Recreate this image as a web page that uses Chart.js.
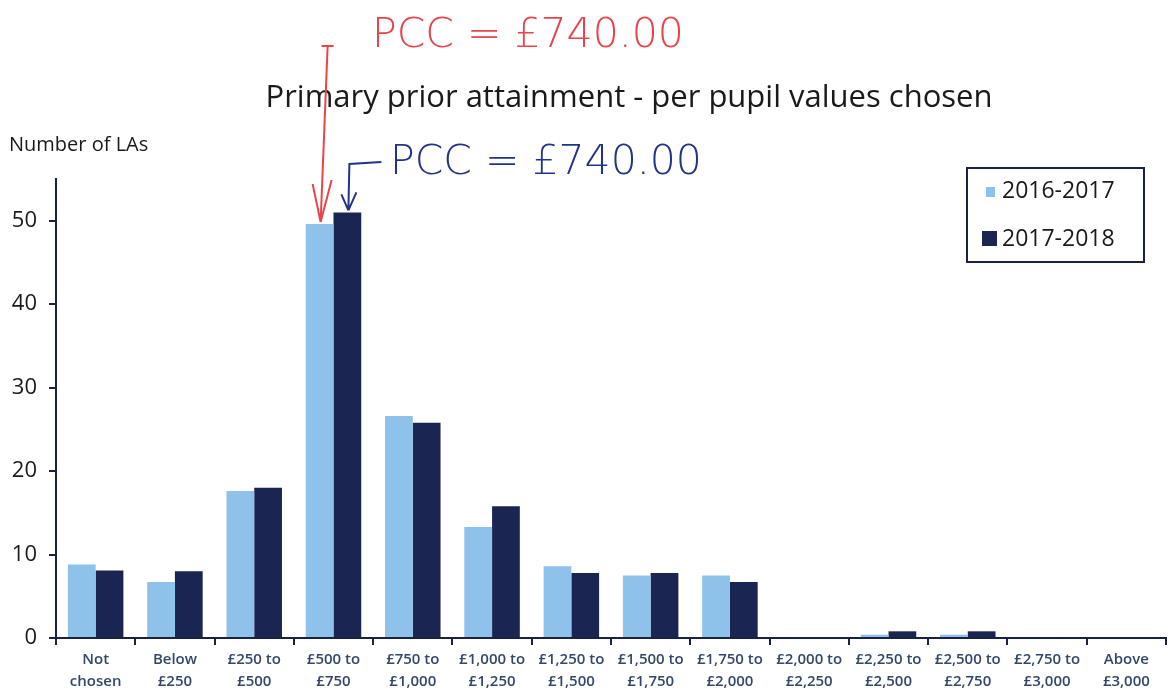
<!DOCTYPE html>
<html>
<head>
<meta charset="utf-8">
<script src="https://cdn.jsdelivr.net/npm/chart.js@4"></script>
<style>
html,body{margin:0;padding:0;background:#fff;}
#wrap{position:relative;width:1168px;height:696px;}
</style>
</head>
<body>
<div id="wrap"><canvas id="c" width="1168" height="696"></canvas></div>
<script>
const categories = [
  ["Not","chosen"],["Below","£250"],["£250 to","£500"],["£500 to","£750"],
  ["£750 to","£1,000"],["£1,000 to","£1,250"],["£1,250 to","£1,500"],["£1,500 to","£1,750"],
  ["£1,750 to","£2,000"],["£2,000 to","£2,250"],["£2,250 to","£2,500"],["£2,500 to","£2,750"],
  ["£2,750 to","£3,000"],["Above","£3,000"]
];
const seriesNames = ["2016-2017","2017-2018"];
const values2016 = [8.8, 6.7, 17.6, 49.6, 26.6, 13.3, 8.6, 7.5, 7.5, 0, 0.4, 0.4, 0, 0];
const values2017 = [8.1, 8.0, 18.0, 51.0, 25.8, 15.8, 7.8, 7.8, 6.7, 0, 0.8, 0.8, 0, 0];
const yTicks = [0, 10, 20, 30, 40, 50];
const yMax = 55;
const titleText = "Primary prior attainment - per pupil values chosen";
const yAxisTitle = "Number of LAs";
const noteRed = "PCC = £740.00";
const noteBlue = "PCC = £740.00";
const noteCategory = 3;

const colors = ["#8ec2ea", "#1b2552"];
const axisColor = "#1a2244";

const overlay = {
  id: "overlay",
  afterDraw(chart) {
    const ctx = chart.ctx;
    ctx.save();
    // title
    ctx.fillStyle = "#1a1a1a";
    ctx.font = "31px 'Open Sans', sans-serif";
    ctx.textAlign = "center";
    ctx.textBaseline = "middle";
    ctx.fillText(titleText, 629, 98);
    // y axis title
    ctx.font = "20px 'Open Sans', sans-serif";
    ctx.textAlign = "left";
    ctx.fillText(yAxisTitle, 9, 145);

    // legend
    const lx = 967, ly = 168, lw = 177, lh = 94;
    ctx.strokeStyle = axisColor;
    ctx.lineWidth = 2;
    ctx.strokeRect(lx, ly, lw, lh);
    ctx.font = "23px 'Open Sans', sans-serif";
    ctx.textBaseline = "middle";
    ctx.fillStyle = colors[0];
    ctx.fillRect(lx + 19, ly + 19, 9, 10);
    ctx.fillStyle = colors[1];
    ctx.fillRect(lx + 15, ly + 63, 15, 15);
    ctx.fillStyle = "#1a1a1a";
    ctx.fillText(seriesNames[0], lx + 35, ly + 23);
    ctx.fillText(seriesNames[1], lx + 35, ly + 71);

    // handwritten notes
    const m0 = chart.getDatasetMeta(0).data[noteCategory];
    const m1 = chart.getDatasetMeta(1).data[noteCategory];
    // red
    const rx = m0.x + 8;
    ctx.strokeStyle = "#e8444a";
    ctx.fillStyle = "#e8444a";
    ctx.lineWidth = 2;
    ctx.beginPath();
    ctx.moveTo(rx - 6, 46); ctx.lineTo(rx + 6, 46);
    ctx.moveTo(rx, 46); ctx.lineTo(rx - 7, m0.y - 2);
    ctx.moveTo(rx - 7, m0.y - 2); ctx.lineTo(rx - 15, m0.y - 40);
    ctx.moveTo(rx - 7, m0.y - 2); ctx.lineTo(rx + 4, m0.y - 44);
    ctx.stroke();
    ctx.font = "300 41px 'DejaVu Sans', sans-serif";
    ctx.textAlign = "left";
    ctx.fillText(noteRed, 372, 36);
    // blue
    const bx = m1.x + 2;
    ctx.strokeStyle = "#22348a";
    ctx.fillStyle = "#22348a";
    ctx.beginPath();
    ctx.moveTo(bx + 32, 162); ctx.lineTo(bx, 164);
    ctx.lineTo(bx - 1, m1.y - 2);
    ctx.moveTo(bx - 1, m1.y - 2); ctx.lineTo(bx - 8, m1.y - 18);
    ctx.moveTo(bx - 1, m1.y - 2); ctx.lineTo(bx + 7, m1.y - 20);
    ctx.stroke();
    ctx.fillText(noteBlue, 390, 163);
    ctx.restore();
  }
};

new Chart(document.getElementById("c"), {
  type: "bar",
  data: {
    labels: categories,
    datasets: [
      { label: seriesNames[0], data: values2016, backgroundColor: colors[0], categoryPercentage: 0.7, barPercentage: 1.0 },
      { label: seriesNames[1], data: values2017, backgroundColor: colors[1], categoryPercentage: 0.7, barPercentage: 1.0 }
    ]
  },
  options: {
    responsive: false,
    animation: false,
    devicePixelRatio: 1,
    layout: { padding: { top: 179, right: 2, left: 0, bottom: 0 } },
    plugins: { legend: { display: false }, title: { display: false }, tooltip: { enabled: false } },
    scales: {
      x: {
        afterFit(s) { s.height = 58; },
        grid: { display: true, drawOnChartArea: false, drawTicks: true, tickLength: 7, offset: true, color: axisColor, lineWidth: 2 },
        border: { display: true, color: axisColor, width: 2 },
        ticks: { color: "#34476b", font: { family: "'Open Sans', sans-serif", size: 15, weight: "600", lineHeight: 1.5 }, padding: 3, maxRotation: 0, autoSkip: false }
      },
      y: {
        min: 0, max: yMax,
        afterFit(s) { s.width = 56; },
        afterBuildTicks(s) { s.ticks = yTicks.map(v => ({ value: v })); },
        grid: { display: true, drawOnChartArea: false, drawTicks: true, tickLength: 7, color: axisColor, lineWidth: 2 },
        border: { display: true, color: axisColor, width: 2 },
        ticks: { color: "#1a1a1a", font: { family: "'Open Sans', sans-serif", size: 22 }, padding: 12 }
      }
    }
  },
  plugins: [overlay]
});
</script>
</body>
</html>
